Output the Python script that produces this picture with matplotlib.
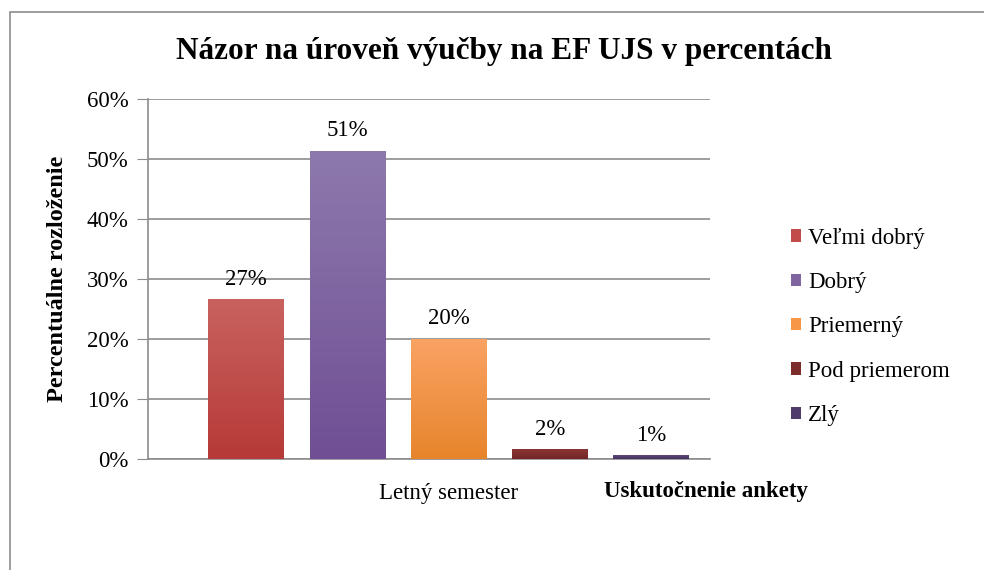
import matplotlib
matplotlib.use("Agg")
import matplotlib.pyplot as plt
import numpy as np
from matplotlib.colors import LinearSegmentedColormap
from matplotlib.patches import Rectangle, Patch

plt.rcParams['font.family'] = ['Liberation Serif', 'DejaVu Serif']

# data
categories = ["Veľmi dobrý", "Dobrý", "Priemerný", "Pod priemerom", "Zlý"]
values = [26.6, 51.3, 20.0, 1.6, 0.6]
group_label = "Letný semester"
yticks = [0, 10, 20, 30, 40, 50, 60]
top_colors = ["#c9625f", "#8d79ac", "#f9a263", "#8a3535", "#5a4878"]
bottom_colors = ["#b63a37", "#704f95", "#e7852c", "#722525", "#463262"]
mid_colors = ["#c04d4a", "#7f64a0", "#f79646", "#7d2c2c", "#4f3c6c"]

FS = 16.5

fig = plt.figure(figsize=(9.84, 5.7), dpi=100)
ax = fig.add_axes([148 / 984, 1 - 459 / 570, 562 / 984, 360 / 570])

x = np.arange(len(values))
width = 0.75
bars = ax.bar(x, values, width=width, color=mid_colors, zorder=2)

# vertical gradient on every bar
grad = np.linspace(1, 0, 100).reshape(-1, 1)
for b, c_top, c_bot in zip(bars, top_colors, bottom_colors):
    cmap = LinearSegmentedColormap.from_list("g", [c_bot, c_top])
    x0, h = b.get_x(), b.get_height()
    im = ax.imshow(grad, cmap=cmap, aspect='auto', zorder=3,
                   extent=[x0, x0 + b.get_width(), 0, h])
    im.set_clip_path(b)

for b, v in zip(bars, values):
    ax.annotate(f"{round(v)}%", (b.get_x() + b.get_width() / 2, v),
                xytext=(0, 7), textcoords='offset points',
                ha='center', va='bottom', fontsize=FS)

ax.set_xlim(-0.97, 4.58)
ax.set_ylim(0, 60)
ax.set_yticks(yticks)
ax.set_yticklabels([f"{t}%" for t in yticks], fontsize=FS)
ax.yaxis.grid(True, color='#8c8c8c', linewidth=1.2, zorder=0)
ax.set_axisbelow(True)
ax.tick_params(axis='y', length=8, color='#8c8c8c', pad=6)
ax.set_xticks([np.mean(x)])
ax.set_xticklabels([group_label], fontsize=FS)
ax.tick_params(axis='x', length=0, pad=17)

for s in ['top', 'right']:
    ax.spines[s].set_visible(False)
ax.spines['left'].set_color('#8c8c8c')
ax.spines['bottom'].set_color('#8c8c8c')
ax.spines['left'].set_linewidth(1.2)
ax.spines['bottom'].set_linewidth(1.2)

ax.set_xlabel("Uskutočnenie ankety", fontsize=FS, fontweight='bold')
ax.xaxis.set_label_coords(0.993, -0.06)
ax.set_ylabel("Percentuálne rozloženie", fontsize=17.5, fontweight='bold')
ax.yaxis.set_label_coords(-0.142, 0.5)

fig.text(0.512, 1 - 52 / 570, "Názor na úroveň výučby na EF UJS v percentách",
         ha='center', va='center', fontsize=22.5, fontweight='bold')

handles = [Patch(facecolor=c) for c in mid_colors]
fig.legend(handles, categories, loc='upper left',
           bbox_to_anchor=(770 / 984, 1 - 207 / 570), frameon=False,
           fontsize=FS, handlelength=0.45, handleheight=0.45,
           handletextpad=0.3, labelspacing=1.02)

# outer chart border
fig.add_artist(Rectangle((10 / 984, -0.05), 1.2, 1 - 12 / 570 + 0.05,
                         transform=fig.transFigure, fill=False,
                         edgecolor='#8c8c8c', linewidth=1.2))

fig.savefig("out.png", dpi=100)
